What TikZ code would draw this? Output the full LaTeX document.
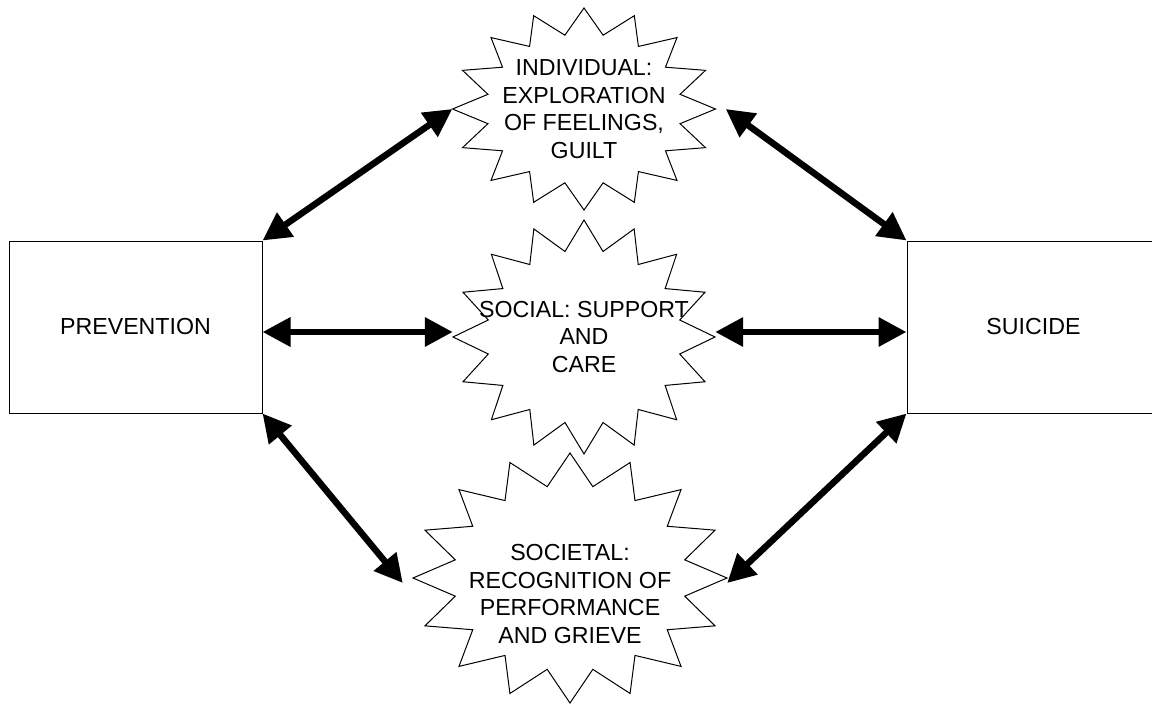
\documentclass[tikz,border=0pt]{standalone}
\usepackage{fontspec}
\setmainfont{Liberation Sans}
\usetikzlibrary{arrows.meta,calc}

\begin{document}
\begin{tikzpicture}[
    x=1pt, y=1pt,
    every node/.style={font=\fontsize{23.2}{27.5}\selectfont},
    box/.style={
        draw, line width=1pt, inner sep=0pt,
        minimum width=253pt, minimum height=172pt
    },
    burst/.style={rectangle, inner sep=0pt, align=center},
    outline/.style={line width=1pt, line join=miter},
    arr/.style={
        {Triangle[length=28pt,width=28pt]}-{Triangle[length=28pt,width=28pt]},
        line width=6.5pt
    },
]
\useasboundingbox (0,0) rectangle (1152,-704);

% Outer boxes
\node[box] (prev) at (135.5,-327) {PREVENTION};
\node[box] (suicide) at (1033.5,-327) {SUICIDE};

% Middle levels
\node[burst, minimum width=263pt, minimum height=202pt] (indiv) at (584,-109)
    {INDIVIDUAL:\\EXPLORATION\\OF FEELINGS,\\GUILT};
\node[burst, minimum width=262pt, minimum height=234pt] (social) at (584,-337)
    {SOCIAL: SUPPORT\\AND\\CARE};
\node[burst, minimum width=314pt, minimum height=250pt] (societal) at (570,-594)
    {SOCIETAL:\\RECOGNITION OF\\PERFORMANCE\\AND GRIEVE};

% Starburst outlines (16 points)
\foreach \n/\rx/\ry/\dy in {indiv/131.5/101/0, social/131/117/0, societal/157/125/16}
    \draw[outline] ($(\n.center)+(0,\dy)+(90:{\rx} and {\ry})$)
        \foreach \k [evaluate=\k as \a using 101.25+22.5*\k,
                     evaluate=\k as \b using 112.5+22.5*\k] in {0,...,14}
        { -- ($(\n.center)+(0,\dy)+(\a:{0.745*\rx} and {0.745*\ry})$)
          -- ($(\n.center)+(0,\dy)+(\b:{\rx} and {\ry})$) }
        -- ($(\n.center)+(0,\dy)+(438.75:{0.745*\rx} and {0.745*\ry})$) -- cycle;

% Two-way arrows
\draw[arr] (prev.north east) -- (indiv.west);
\draw[arr] ([yshift=-5pt]prev.east) -- ([yshift=5pt]social.west);
\draw[arr] (prev.south east) -- ([shift={(-10,11)}]societal.west);
\draw[arr] ([xshift=10pt]indiv.east) -- (suicide.north west);
\draw[arr] ([yshift=5pt]social.east) -- ([yshift=-5pt]suicide.west);
\draw[arr] ([yshift=11pt]societal.east) -- (suicide.south west);

\end{tikzpicture}
\end{document}
